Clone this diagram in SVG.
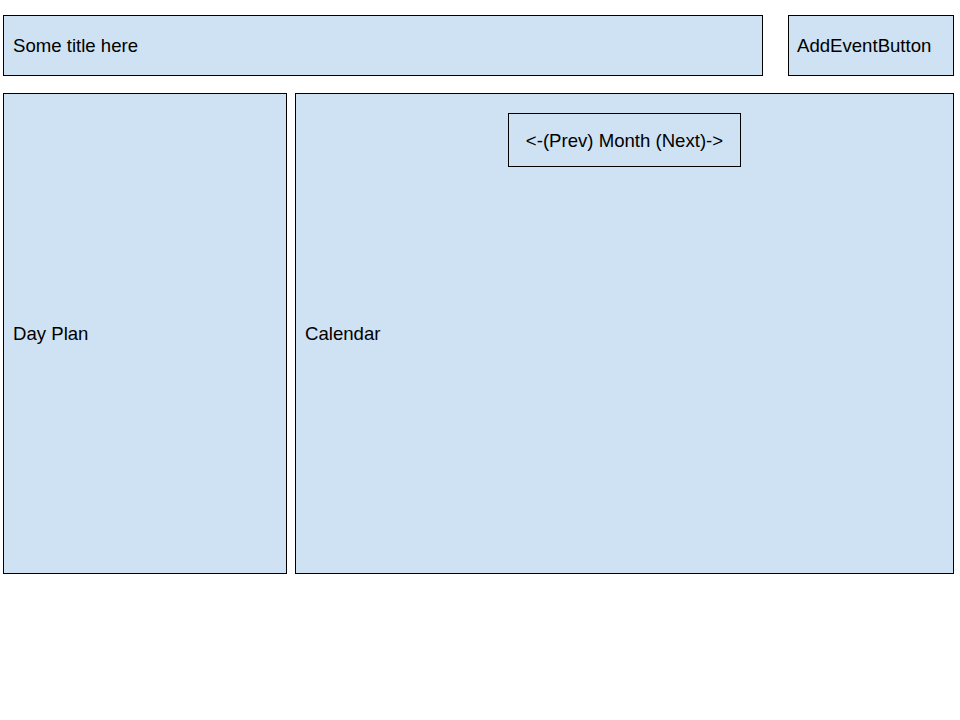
<svg xmlns="http://www.w3.org/2000/svg" width="960" height="720" viewBox="0 0 960 720">
<style>
.box{fill:#cfe2f3;stroke:#000;stroke-width:1}
.lbl{font-family:"Liberation Sans",Arial,sans-serif;font-size:18.6px;fill:#000}
</style>
<rect x="0" y="0" width="960" height="720" fill="#fff"/>
<g id="title"><rect class="box" x="3.5" y="15.5" width="759" height="60"/><text class="lbl" x="13" y="51.5">Some title here</text></g>
<g id="addEventButton"><rect class="box" x="788.5" y="15.5" width="165" height="60"/><text class="lbl" x="797" y="51.5">AddEventButton</text></g>
<g id="dayPlan"><rect class="box" x="3.5" y="93.5" width="283" height="480"/><text class="lbl" x="13" y="339.5">Day Plan</text></g>
<g id="calendar"><rect class="box" x="295.5" y="93.5" width="658" height="480"/><text class="lbl" x="305" y="339.5">Calendar</text></g>
<g id="month"><rect class="box" x="508.5" y="113.5" width="232" height="53"/><text class="lbl" x="624.5" y="146.5" text-anchor="middle">&lt;-(Prev) Month (Next)-&gt;</text></g>
<g id="connectors"/>
</svg>
